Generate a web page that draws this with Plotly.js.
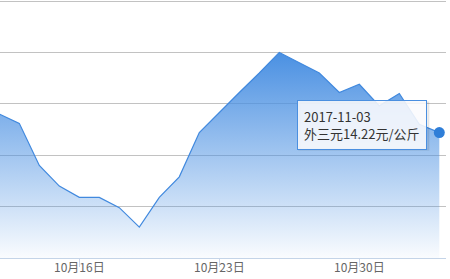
<!DOCTYPE html>
<html>
<head>
<meta charset="utf-8">
<script src="https://cdn.plot.ly/plotly-3.0.1.min.js"></script>
<style>html,body{margin:0;padding:0;background:#fff;}#chart{width:450px;height:279px;}</style>
</head>
<body>
<div id="chart"></div>
<script>
// Data
const dates = ['2017-10-12','2017-10-13','2017-10-14','2017-10-15','2017-10-16','2017-10-17','2017-10-18',
  '2017-10-19','2017-10-20','2017-10-21','2017-10-22','2017-10-23','2017-10-24','2017-10-25','2017-10-26',
  '2017-10-27','2017-10-28','2017-10-29','2017-10-30','2017-10-31','2017-11-01','2017-11-02','2017-11-03'];
const prices = [14.40,14.31,13.90,13.70,13.59,13.59,13.49,13.30,13.59,13.79,14.22,14.42,14.61,14.80,15.00,
  14.90,14.80,14.61,14.69,14.48,14.60,14.30,14.22];
const seriesName = '外三元';
const unit = '元/公斤';
const tickVals = ['2017-10-16','2017-10-23','2017-10-30'];
const tickText = ['10月16日','10月23日','10月30日'];

const lastIdx = dates.length - 1;
const font = '"Noto Sans CJK SC", "Noto Sans", sans-serif';
const tipText = dates[lastIdx] + '<br>' + seriesName + prices[lastIdx].toFixed(2) + unit;

const area = {
  x: dates, y: prices, type: 'scatter', mode: 'lines',
  line: {color: '#4189de', width: 1.2},
  fill: 'tozeroy',
  fillgradient: {type: 'vertical', start: 13, stop: 15,
    colorscale: [[0, 'rgba(74,144,226,0.03)'], [1, 'rgba(74,144,226,1)']]},
  hoverinfo: 'skip', showlegend: false
};
const lastPoint = {
  x: [dates[lastIdx]], y: [prices[lastIdx]], type: 'scatter', mode: 'markers',
  marker: {color: '#2f7ed8', size: 11}, hoverinfo: 'skip', showlegend: false, cliponaxis: false
};

const layout = {
  width: 450, height: 279,
  margin: {l: 0, r: 4, t: 0, b: 21},
  paper_bgcolor: '#fff', plot_bgcolor: '#fff',
  font: {family: font, size: 12, color: '#666'},
  xaxis: {
    type: 'date', range: ['2017-10-12 00:50', '2017-11-03 08:02'],
    tickvals: tickVals, ticktext: tickText,
    showgrid: false, zeroline: false,
    showline: true, linecolor: '#c4d4e8', linewidth: 1,
    ticks: 'outside', ticklen: 8, tickcolor: '#ccd6eb', tickwidth: 1,
    tickfont: {family: font, size: 12, color: '#666'},
    ticklabelstandoff: -9
  },
  yaxis: {
    range: [13, 15.51], tick0: 13, dtick: 0.5,
    showgrid: true, gridcolor: '#c2c2c2', gridwidth: 1,
    zeroline: false, showticklabels: false, ticks: ''
  },
  shapes: [{
    type: 'rect', layer: 'above',
    xref: 'x', xsizemode: 'pixel', xanchor: dates[lastIdx], x0: -140, x1: -11,
    yref: 'y', ysizemode: 'pixel', yanchor: prices[lastIdx], y0: -17, y1: 30,
    line: {color: 'rgba(0,0,0,0.10)', width: 2}, fillcolor: 'rgba(0,0,0,0)'
  }],
  annotations: [{
    x: dates[lastIdx], y: prices[lastIdx], xref: 'x', yref: 'y',
    text: tipText, showarrow: true, arrowcolor: 'rgba(0,0,0,0)', arrowwidth: 0.1,
    ax: -77, ay: -8, align: 'left', borderpad: 6,
    font: {family: font, size: 13, color: '#333'},
    bgcolor: 'rgba(250,251,253,0.88)', bordercolor: '#4a8fe0', borderwidth: 1
  }],
  hovermode: false
};

Plotly.newPlot('chart', [area, lastPoint], layout, {displayModeBar: false, staticPlot: true});
</script>
</body>
</html>
